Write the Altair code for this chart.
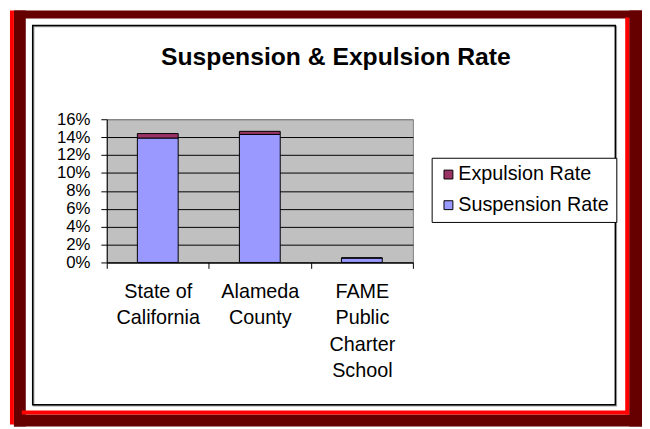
import altair as alt
import pandas as pd

# ---- data ----
categories = ["State of California", "Alameda County", "FAME Public Charter School"]
label_lines = [["State of", "California"], ["Alameda", "County"], ["FAME", "Public", "Charter", "School"]]
series_names = ["Expulsion Rate", "Suspension Rate"]
series_colors = ["#993366", "#9999FF"]
suspension = [0.139, 0.143, 0.005]
expulsion = [0.005, 0.0035, 0.0]
y_ticks = [0, 0.02, 0.04, 0.06, 0.08, 0.10, 0.12, 0.14, 0.16]
chart_title = "Suspension & Expulsion Rate"

rows = []
for i, c in enumerate(categories):
    rows.append({"cat": c, "series": "Suspension Rate", "value": suspension[i], "ord": 0})
    rows.append({"cat": c, "series": "Expulsion Rate", "value": expulsion[i], "ord": 1})
df = pd.DataFrame(rows)

# ---- layout (svg pixels) ----
W, H = 310, 145
PL, PT = 100, 110
TOTAL_W, TOTAL_H = 642, 421
PR = TOTAL_W - PL - W
PB = TOTAL_H - PT - H

label_expr = ""
for c, lines in zip(categories, label_lines):
    arr = "[" + ",".join("'" + l + "'" for l in lines) + "]"
    label_expr += f"datum.label == '{c}' ? {arr} : "
label_expr += "datum.label"

one = alt.Data(values=[{"k": 1}])


def deco(x1, x2, y1, y2, **kw):
    return alt.Chart(one).mark_rect(**kw).encode(
        x=alt.value(x1 - PL), x2=alt.value(x2 - PL),
        y=alt.value(y1 - PT), y2=alt.value(y2 - PT),
    )


DARK, RED = "#660000", "#FF0000"
frame = [
    deco(6, TOTAL_W, 0, 8, fill=DARK),
    deco(6, 18, 0, TOTAL_H, fill=DARK),
    deco(629, TOTAL_W, 0, TOTAL_H, fill=DARK),
    deco(6, TOTAL_W, 409, TOTAL_H, fill=DARK),
    deco(2, 6, 0, TOTAL_H - 2, fill=RED),
    deco(625, 629, 7, 409, fill=RED),
    deco(14, 629, 405, 409, fill=RED),
    deco(26, 616, 16, 400, fill="white", fillOpacity=0, stroke="#a0a0a0", strokeWidth=1.5),
    deco(25, 615, 15, 399, fill="white", fillOpacity=0, stroke="black", strokeWidth=1.5),
]

y_scale = alt.Scale(domain=[0, 0.16], nice=False, zero=True)

bars = alt.Chart(df).mark_bar(stroke="black", strokeWidth=1, width=alt.RelativeBandSize(0.4)).encode(
    x=alt.X("cat:N", sort=categories, title=None,
            scale=alt.Scale(paddingInner=0, paddingOuter=0),
            axis=alt.Axis(labelExpr=label_expr)),
    y=alt.Y("value:Q", stack="zero", scale=y_scale,
            axis=alt.Axis(title=None, values=y_ticks, format=".0%", grid=True,
                          gridColor={"condition": {"test": "datum.value >= 0.159", "value": "#808080"},
                                     "value": "black"})),
    color=alt.Color("series:N", scale=alt.Scale(domain=series_names, range=series_colors),
                    legend=alt.Legend(title=None, orient="none", legendX=329, legendY=39)),
    order=alt.Order("ord:Q"),
)

chart = alt.layer(*frame, bars).properties(
    width=W, height=H,
    autosize=alt.AutoSizeParams(type="none"),
    padding={"left": PL, "top": PT, "right": PR, "bottom": PB},
    title=alt.TitleParams(chart_title, anchor="middle", dx=77, offset=-80, baseline="alphabetic",
                          fontSize=25, fontWeight="bold", color="black", font="Liberation Sans"),
).configure(
    background="white", font="Liberation Sans"
).configure_view(
    fill="#C0C0C0", stroke="#808080", strokeWidth=1
).configure_axisX(
    domainColor="black", tickColor="black", tickSize=6, tickBand="extent", labelAngle=0,
    labelFontSize=20, labelLineHeight=27, labelPadding=13, labelColor="black", grid=False,
    labelBaseline="top",
).configure_axisY(
    domainColor="black", tickColor="black", tickSize=6, labelFontSize=17, labelPadding=11,
    labelColor="black", gridWidth=1,
).configure_legend(
    strokeColor="black", fillColor="white", padding=7, symbolType="square", symbolSize=81,
    symbolStrokeColor="black", symbolStrokeWidth=1, labelFontSize=20, labelColor="black",
    rowPadding=11, labelOffset=0, symbolOpacity=1,
)

chart.save("out.html", embed_options={"renderer": "svg", "actions": False})
